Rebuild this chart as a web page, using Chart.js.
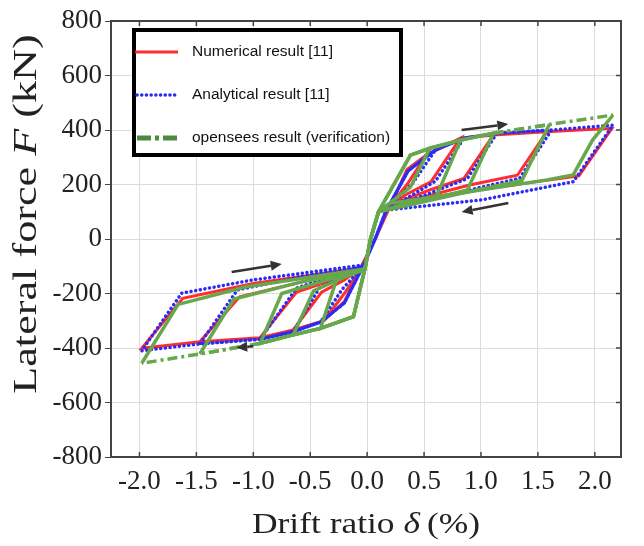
<!DOCTYPE html>
<html>
<head>
<meta charset="utf-8">
<title>Lateral force vs drift ratio</title>
<script src="https://cdn.jsdelivr.net/npm/chart.js@4.4.1/dist/chart.umd.min.js"></script>
<style>
  html, body { margin: 0; padding: 0; background: #fff; }
  canvas { display: block; }
</style>
</head>
<body>
<canvas id="chart" width="644" height="546"></canvas>
<script>
// tick labels
var xTicks = [-2.0, -1.5, -1.0, -0.5, 0.0, 0.5, 1.0, 1.5, 2.0];
var yTicks = [-800, -600, -400, -200, 0, 200, 400, 600, 800];

var seriesLabels = ['Numerical result [11]', 'Analytical result [11]', 'opensees result (verification)'];

// [drift %, force kN], read along the loading path
var redPath = [
    [0.07, 0],
    [0.2, 119], [0.35, 255], [0.52, 308], [0.35, 200], [0.2, 122], [0.07, 0], [-0.05, -100], [-0.2, -230], [-0.38, -300], [-0.2, -200], [-0.05, -105], [0.07, 0],
    [0.2, 119], [0.35, 255], [0.52, 308], [0.82, 370], [0.56, 210], [0.35, 165], [0.2, 122], [0.07, 0], [-0.05, -100], [-0.2, -230], [-0.38, -300], [-0.65, -334], [-0.4, -195], [-0.2, -150], [-0.05, -105], [0.07, 0],
    [0.2, 119], [0.35, 255], [0.52, 308], [0.82, 370], [1.11, 382], [0.85, 222], [0.55, 180], [0.2, 122], [0.07, 0], [-0.05, -100], [-0.2, -230], [-0.38, -300], [-0.65, -334], [-0.94, -362], [-0.62, -195], [-0.3, -150], [-0.05, -105], [0.07, 0],
    [0.2, 119], [0.35, 255], [0.52, 308], [0.82, 370], [1.11, 382], [1.58, 394], [1.32, 234], [0.9, 198], [0.2, 122], [0.07, 0], [-0.05, -100], [-0.2, -230], [-0.38, -300], [-0.65, -334], [-0.94, -362], [-1.47, -377], [-1.12, -212], [-0.6, -160], [-0.05, -105], [0.07, 0],
    [0.2, 119], [0.35, 255], [0.52, 308], [0.82, 370], [1.11, 382], [1.58, 394], [2.15, 406], [1.86, 232], [1.4, 205], [0.8, 170], [0.2, 122], [0.07, 0], [-0.05, -100], [-0.2, -230], [-0.38, -300], [-0.65, -334], [-0.94, -362], [-1.47, -377], [-1.98, -401], [-1.62, -218], [-1.0, -163], [-0.05, -105], [0.07, 0]
];

var bluePath = [
    [0.07, 0],
    [0.17, 106], [0.36, 250], [0.6, 327], [0.4, 205], [0.17, 110], [0.07, 0], [-0.03, -95], [-0.2, -235], [-0.41, -305], [-0.22, -185], [-0.03, -97], [0.07, 0],
    [0.17, 106], [0.36, 250], [0.6, 327], [0.85, 370], [0.6, 212], [0.35, 150], [0.17, 108], [0.07, 0], [-0.03, -95], [-0.2, -235], [-0.41, -305], [-0.65, -340], [-0.42, -180], [-0.2, -135], [-0.03, -97], [0.07, 0],
    [0.17, 106], [0.36, 250], [0.6, 327], [0.85, 370], [1.14, 388], [0.88, 222], [0.5, 160], [0.17, 108], [0.07, 0], [-0.03, -95], [-0.2, -235], [-0.41, -305], [-0.65, -340], [-0.94, -368], [-0.62, -180], [-0.3, -135], [-0.03, -97], [0.07, 0],
    [0.17, 106], [0.36, 250], [0.6, 327], [0.85, 370], [1.14, 388], [1.62, 400], [1.34, 223], [0.8, 170], [0.17, 108], [0.07, 0], [-0.03, -95], [-0.2, -235], [-0.41, -305], [-0.65, -340], [-0.94, -368], [-1.47, -385], [-1.14, -187], [-0.6, -140], [-0.03, -97], [0.07, 0],
    [0.17, 106], [0.36, 250], [0.6, 327], [0.85, 370], [1.14, 388], [1.62, 400], [2.16, 418], [1.81, 210], [1.0, 143], [0.17, 106], [0.07, 0], [-0.03, -95], [-0.2, -235], [-0.41, -305], [-0.65, -340], [-0.94, -368], [-1.47, -385], [-1.98, -410], [-1.63, -199], [-1.0, -150], [-0.03, -95], [0.07, 0]
];

var greenPath = [
    [0.03, 0],
    [0.1, 100], [0.38, 308], [0.55, 333], [0.38, 190], [0.1, 100], [0.03, 0], [-0.02, -110], [-0.12, -285], [-0.41, -328], [-0.27, -150], [-0.02, -112], [0.03, 0],
    [0.1, 100], [0.38, 308], [0.55, 333], [0.82, 363], [0.61, 158], [0.3, 125], [0.1, 100], [0.03, 0], [-0.02, -110], [-0.12, -285], [-0.41, -328], [-0.65, -352], [-0.47, -190], [-0.2, -140], [-0.02, -112], [0.03, 0],
    [0.1, 100], [0.38, 308], [0.55, 333], [0.82, 363], [1.11, 388], [0.88, 180], [0.5, 140], [0.1, 100], [0.03, 0], [-0.02, -110], [-0.12, -285], [-0.41, -328], [-0.65, -352], [-0.94, -383], [-0.75, -200], [-0.35, -150], [-0.02, -112], [0.03, 0],
    [0.1, 100], [0.38, 308], [0.55, 333], [0.82, 363], [1.11, 388], [1.6, 420], [1.36, 215], [0.8, 165], [0.1, 100], [0.03, 0], [-0.02, -110], [-0.12, -285], [-0.41, -328], [-0.65, -352], [-0.94, -383], [-1.47, -422], [-1.17, -220], [-0.6, -160], [-0.02, -112], [0.03, 0],
    [0.1, 100], [0.38, 308], [0.55, 333], [0.82, 363], [1.11, 388], [1.6, 420], [2.16, 455], [1.98, 363], [1.81, 235], [1.58, 217], [0.91, 174], [0.2, 131], [0.1, 100], [0.03, 0], [-0.02, -110], [-0.12, -285], [-0.41, -328], [-0.65, -352], [-0.94, -383], [-1.47, -422], [-1.98, -456], [-1.66, -240], [-1.06, -175], [-0.02, -110], [0.03, 0]
];

// loading direction arrows, [drift, force] tail -> head
var arrowTails = [[0.83, 400], [1.24, 132], [-1.19, -121], [-1.0, -394]];
var arrowHeads = [[1.24, 422], [0.83, 99], [-0.75, -92], [-1.15, -398]];

var RED = 'rgba(255, 28, 28, 0.92)';
var BLUE = '#2a2cf5';
var GREEN = '#66a84b';
var SERIF = '"Liberation Serif", "Times New Roman", serif';

function toPoints(path) {
    return path.map(function(p) { return { x: p[0], y: p[1] }; });
}

function isOuterEnvelope(a, b) {
    if (a.x >= 1.1 && b.x >= 1.1 && a.y > 380 && b.y > 380) return true;
    if (a.x <= -0.93 && b.x <= -0.93 && a.y < -380 && b.y < -380) return true;
    return false;
}

var framePlugin = {
    id: 'frame',
    afterDatasetsDraw: function(chart) {
        var ctx = chart.ctx, a = chart.chartArea;
        var xs = chart.scales.x, ys = chart.scales.y;
        ctx.save();
        ctx.strokeStyle = '#444';
        ctx.lineWidth = 2;
        ctx.strokeRect(a.left, a.top, a.right - a.left, a.bottom - a.top);
        ctx.lineWidth = 1.5;
        ctx.beginPath();
        xTicks.forEach(function(v) {
            var px = xs.getPixelForValue(v);
            ctx.moveTo(px, a.top); ctx.lineTo(px, a.top + 5);
            ctx.moveTo(px, a.bottom); ctx.lineTo(px, a.bottom - 5);
        });
        yTicks.forEach(function(v) {
            var py = ys.getPixelForValue(v);
            ctx.moveTo(a.right, py); ctx.lineTo(a.right - 5, py);
        });
        ctx.stroke();

        // arrows
        ctx.strokeStyle = '#333';
        ctx.fillStyle = '#333';
        ctx.lineWidth = 2.5;
        arrowTails.forEach(function(t, i) {
            var h = arrowHeads[i];
            var x0 = xs.getPixelForValue(t[0]), y0 = ys.getPixelForValue(t[1]);
            var x1 = xs.getPixelForValue(h[0]), y1 = ys.getPixelForValue(h[1]);
            var ang = Math.atan2(y1 - y0, x1 - x0);
            var len = 11, half = 5;
            var bx = x1 - len * Math.cos(ang), by = y1 - len * Math.sin(ang);
            ctx.beginPath();
            ctx.moveTo(x0, y0); ctx.lineTo(bx, by);
            ctx.stroke();
            ctx.beginPath();
            ctx.moveTo(x1, y1);
            ctx.lineTo(bx + half * Math.sin(ang), by - half * Math.cos(ang));
            ctx.lineTo(bx - half * Math.sin(ang), by + half * Math.cos(ang));
            ctx.closePath();
            ctx.fill();
        });
        ctx.restore();
    }
};

var legendPlugin = {
    id: 'boxLegend',
    afterDraw: function(chart) {
        var ctx = chart.ctx;
        var left = 132, top = 28, w = 271, h = 129;
        ctx.save();
        ctx.fillStyle = '#fff';
        ctx.fillRect(left, top, w, h);
        ctx.strokeStyle = '#000';
        ctx.lineWidth = 4;
        ctx.strokeRect(left + 2, top + 2, w - 4, h - 4);

        var rows = [52, 95, 138];
        // Numerical
        ctx.strokeStyle = RED; ctx.lineWidth = 3; ctx.setLineDash([]);
        ctx.beginPath(); ctx.moveTo(135, rows[0]); ctx.lineTo(178, rows[0]); ctx.stroke();
        // Analytical
        ctx.strokeStyle = BLUE; ctx.lineWidth = 3.5; ctx.lineCap = 'round'; ctx.setLineDash([0.1, 4.6]);
        ctx.beginPath(); ctx.moveTo(137, rows[1]); ctx.lineTo(178, rows[1]); ctx.stroke();
        // opensees
        ctx.strokeStyle = '#4e8a3e'; ctx.lineWidth = 5; ctx.lineCap = 'butt'; ctx.setLineDash([14, 4, 4, 4]);
        ctx.beginPath(); ctx.moveTo(137, rows[2]); ctx.lineTo(179, rows[2]); ctx.stroke();
        ctx.setLineDash([]);

        ctx.fillStyle = '#111';
        ctx.font = '15.5px "Liberation Sans", Arial, sans-serif';
        ctx.textBaseline = 'middle';
        ctx.textAlign = 'left';
        seriesLabels.forEach(function(s, i) { ctx.fillText(s, 192, rows[i]); });
        ctx.restore();
    }
};

function drawPieces(ctx, pieces, size) {
    var total = 0;
    pieces.forEach(function(p) {
        ctx.font = (p[1] ? 'italic ' : '') + size + 'px ' + SERIF;
        p.w = ctx.measureText(p[0]).width;
        total += p.w;
    });
    var x = -total / 2;
    pieces.forEach(function(p) {
        ctx.font = (p[1] ? 'italic ' : '') + size + 'px ' + SERIF;
        ctx.fillText(p[0], x, 0);
        x += p.w;
    });
}

var titlePlugin = {
    id: 'axisTitles',
    afterDraw: function(chart) {
        var ctx = chart.ctx;
        ctx.save();
        ctx.fillStyle = '#222';
        ctx.textBaseline = 'middle';
        ctx.textAlign = 'left';
        // y title
        ctx.save();
        ctx.translate(27, 214);
        ctx.rotate(-Math.PI / 2);
        ctx.scale(1.3, 1);
        drawPieces(ctx, [['Lateral force ', false], ['F', true], [' (kN)', false]], 34);
        ctx.restore();
        // x title
        ctx.save();
        ctx.translate(366, 525);
        ctx.scale(1.18, 1);
        drawPieces(ctx, [['Drift ratio ', false], ['\u03b4', true], ['\u2009(%)', false]], 30);
        ctx.restore();
        ctx.restore();
    }
};

new Chart(document.getElementById('chart'), {
    type: 'scatter',
    data: {
        datasets: [
            {
                label: seriesLabels[2],
                data: toPoints(greenPath),
                showLine: true,
                borderColor: GREEN,
                borderWidth: 3.5,
                pointRadius: 0,
                tension: 0,
                order: 0,
                segment: {
                    borderDash: function(c) {
                        return isOuterEnvelope(c.p0.parsed, c.p1.parsed) ? [10, 4, 3, 4] : undefined;
                    }
                }
            },
            {
                label: seriesLabels[1],
                data: toPoints(bluePath),
                showLine: true,
                borderColor: BLUE,
                borderWidth: 3.5,
                borderDash: [0.1, 4.6],
                borderCapStyle: 'round',
                pointRadius: 0,
                tension: 0,
                order: 1
            },
            {
                label: seriesLabels[0],
                data: toPoints(redPath),
                showLine: true,
                borderColor: RED,
                borderWidth: 3,
                pointRadius: 0,
                tension: 0,
                order: 2
            }
        ]
    },
    options: {
        responsive: false,
        animation: false,
        devicePixelRatio: 1,
        events: [],
        layout: {
            padding: { top: 21, right: 23, left: 0, bottom: 0 }
        },
        plugins: {
            legend: { display: false },
            tooltip: { enabled: false }
        },
        scales: {
            x: {
                type: 'linear',
                min: -2.25,
                max: 2.23,
                afterBuildTicks: function(scale) {
                    scale.ticks = xTicks.map(function(v) { return { value: v }; });
                },
                afterFit: function(scale) { scale.height = 89; },
                grid: { color: '#dcdcdc', lineWidth: 1, drawTicks: false },
                border: { display: true, color: '#444', width: 2 },
                ticks: {
                    autoSkip: false,
                    maxRotation: 0,
                    padding: 9,
                    color: '#222',
                    font: { family: SERIF, size: 27 },
                    callback: function(v) { return Number(v).toFixed(1); }
                }
            },
            y: {
                type: 'linear',
                min: -800,
                max: 800,
                afterBuildTicks: function(scale) {
                    scale.ticks = yTicks.map(function(v) { return { value: v }; });
                },
                afterFit: function(scale) { scale.width = 111; },
                grid: { color: '#dcdcdc', lineWidth: 1, tickLength: 6, tickColor: '#444' },
                border: { display: true, color: '#444', width: 2 },
                ticks: {
                    padding: 3,
                    color: '#222',
                    font: { family: SERIF, size: 27 },
                    callback: function(v) { return String(v); }
                }
            }
        }
    },
    plugins: [framePlugin, legendPlugin, titlePlugin]
});
</script>
</body>
</html>
